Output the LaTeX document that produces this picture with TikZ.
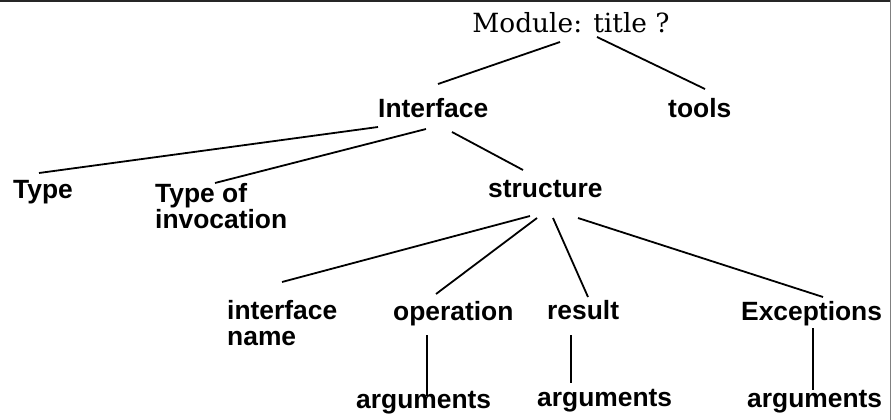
\documentclass[tikz,border=0pt]{standalone}
\usepackage{fontspec}
\setmainfont{DejaVu Serif}
\setsansfont{Liberation Sans}
\begin{document}
\begin{tikzpicture}[x=1pt,y=-1pt,
  lbl/.style={font=\sffamily\bfseries\fontsize{26.4}{26}\selectfont, inner sep=0pt, anchor=base west, align=left},
  heading/.style={font=\fontsize{26.4}{28}\selectfont, inner sep=0pt, anchor=base},
  edge/.style={line width=1.8pt, black},
  frameline/.style={line width=2pt, black!85},
]
\useasboundingbox (0,0) rectangle (891,420);

% page frame: top rule and right rule
\draw[frameline] (0,1) -- (891,1);
\draw[gray, line width=1pt] (890.5,0) -- (890.5,420);

% tree labels (two-line labels sit on the baseline of their last line)
\node[heading] (title) at (571,32.7) {Module: title ?};
\node[lbl] (interface) at (378,117) {Interface};
\node[lbl] (tools) at (668,117) {tools};
\node[lbl] (type) at (13,198) {Type};
\node[lbl] (typeof) at (155,228) {Type of\\invocation};
\node[lbl] (structure) at (488,197) {structure};
\node[lbl] (ifname) at (227,345) {interface\\name};
\node[lbl] (operation) at (393,320.7) {operation};
\node[lbl] (result) at (547,319) {result};
\node[lbl] (exceptions) at (741,320.7) {Exceptions};
\node[lbl] (argsA) at (356,408.3) {arguments};
\node[lbl] (argsB) at (537,406.7) {arguments};
\node[lbl] (argsC) at (747,407) {arguments};

% branches of the tree
\draw[edge] ([shift={(-11,9.3)}]title.base) -- ([shift={(60,-33)}]interface.base west);
\draw[edge] ([shift={(26,4.3)}]title.base) -- ([shift={(37,-28)}]tools.base west);

\draw[edge] ([shift={(0,10)}]interface.base west) -- ([shift={(26,-25)}]type.base west);
\draw[edge] ([shift={(48,12)}]interface.base west) -- ([shift={(60,-45)}]typeof.base west);
\draw[edge] ([shift={(74,15)}]interface.base west) -- ([shift={(35,-27)}]structure.base west);

\draw[edge] ([shift={(42,19)}]structure.base west) -- ([shift={(55,-63)}]ifname.base west);
\draw[edge] ([shift={(49,21)}]structure.base west) -- ([shift={(43,-26.7)}]operation.base west);
\draw[edge] ([shift={(65,21)}]structure.base west) -- ([shift={(41,-22)}]result.base west);
\draw[edge] ([shift={(90,21)}]structure.base west) -- ([shift={(82,-23.7)}]exceptions.base west);

\draw[edge] ([shift={(34,14.3)}]operation.base west) -- ([shift={(71,-12.3)}]argsA.base west);
\draw[edge] ([shift={(24,16)}]result.base west) -- ([shift={(34,-23.7)}]argsB.base west);
\draw[edge] ([shift={(72,7.3)}]exceptions.base west) -- ([shift={(66,-17)}]argsC.base west);
\end{tikzpicture}
\end{document}
